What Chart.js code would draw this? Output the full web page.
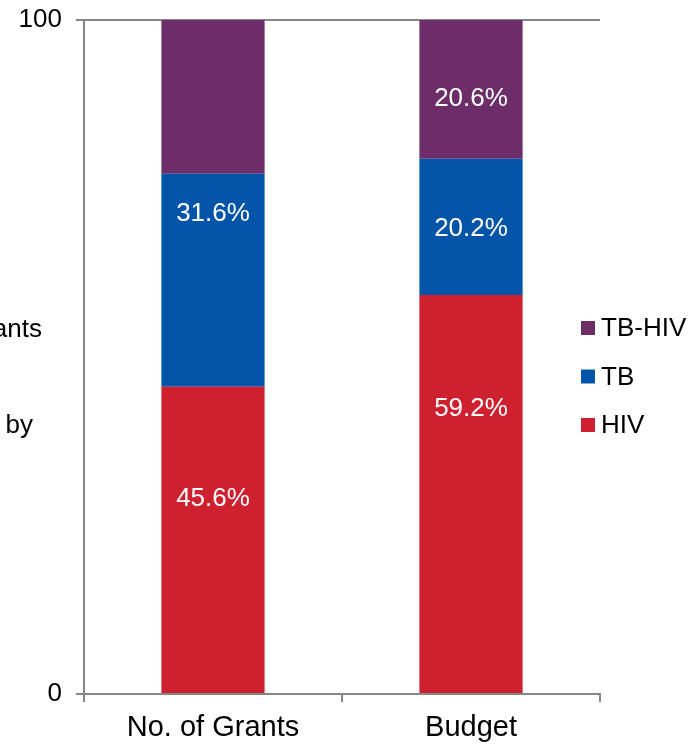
<!DOCTYPE html>
<html>
<head>
<meta charset="utf-8">
<script src="https://cdn.jsdelivr.net/npm/chart.js@4"></script>
<style>
  body { margin: 0; background: #fff; }
</style>
</head>
<body>
<canvas id="chart" width="696" height="746"></canvas>
<script>
const categories = ["No. of Grants", "Budget"];
const hivValues = [45.6, 59.2];
const tbValues = [31.6, 20.2];
const tbHivValues = [22.8, 20.6];

// text shown inside each segment (null = no label)
const hivLabels = ["45.6%", "59.2%"];
const tbLabels = ["31.6%", "20.2%"];
const tbHivLabels = [null, "20.6%"];

const yTicks = [0, 100];

// where the in-bar labels sit, in axis units
const labelAt = {
  hiv: [29.2, 42.6],
  tb: [71.5, 69.3],
  tbHiv: [null, 88.6],
};

const FONT = "'Liberation Sans', Arial, Helvetica, sans-serif";
const AXIS_GREY = "#868686";

const overlay = {
  id: "overlay",
  afterDatasetsDraw(chart) {
    const ctx = chart.ctx;
    const x = chart.scales.x, y = chart.scales.y;
    const labelSets = [
      [hivLabels, labelAt.hiv],
      [tbLabels, labelAt.tb],
      [tbHivLabels, labelAt.tbHiv],
    ];
    ctx.save();
    ctx.fillStyle = "#fff";
    ctx.font = "26px " + FONT;
    ctx.textAlign = "center";
    ctx.textBaseline = "middle";
    labelSets.forEach(([texts, pos]) => {
      texts.forEach((t, i) => {
        if (!t) return;
        // +2 so the digits look centred on the spot
        ctx.fillText(t, x.getPixelForValue(i), y.getPixelForValue(pos[i]) + 2);
      });
    });
    ctx.restore();
  },
  afterDraw(chart) {
    const ctx = chart.ctx;
    ctx.save();
    // legend, top to bottom in reverse stack order
    const items = chart.data.datasets.slice().reverse();
    ctx.font = "26px " + FONT;
    ctx.textBaseline = "middle";
    ctx.textAlign = "left";
    items.forEach((ds, i) => {
      const cy = 328 + i * 48.5;
      ctx.fillStyle = ds.backgroundColor;
      ctx.fillRect(581, cy - 7, 14, 14);
      ctx.fillStyle = "#000";
      ctx.fillText(ds.label, 601, cy + 1);
    });
    // y axis title, mostly clipped off the left edge
    ctx.textAlign = "right";
    ctx.textBaseline = "alphabetic";
    ctx.fillText("Grants", 42, 337);
    ctx.fillText("by", 33, 433);
    ctx.restore();
  },
};

new Chart(document.getElementById("chart"), {
  type: "bar",
  data: {
    labels: categories,
    datasets: [
      { label: "HIV", data: hivValues, backgroundColor: "#CE202F" },
      { label: "TB", data: tbValues, backgroundColor: "#0254A8" },
      { label: "TB-HIV", data: tbHivValues, backgroundColor: "#6C2D68" },
    ],
  },
  options: {
    responsive: false,
    devicePixelRatio: 1,
    animation: false,
    layout: { padding: { left: 0, right: 96, top: 20, bottom: 0 } },
    datasets: {
      bar: { categoryPercentage: 1, barPercentage: 0.4, borderWidth: 0 },
    },
    plugins: {
      legend: { display: false },
      tooltip: { enabled: false },
    },
    scales: {
      x: {
        stacked: true,
        grid: {
          offset: true,
          drawOnChartArea: false,
          color: AXIS_GREY,
          lineWidth: 2,
          tickLength: 8,
        },
        border: { color: AXIS_GREY, width: 2 },
        ticks: { color: "#000", font: { size: 29, family: FONT }, padding: 9 },
        afterFit(scale) {
          scale.height = 52;
          scale.paddingLeft = 0;
          scale.paddingRight = 0;
        },
      },
      y: {
        stacked: true,
        min: 0,
        max: 100,
        afterBuildTicks(scale) {
          scale.ticks = yTicks.map(v => ({ value: v }));
        },
        grid: {
          color: AXIS_GREY,
          lineWidth: 2,
          tickLength: 8,
        },
        border: { color: AXIS_GREY, width: 2 },
        ticks: { color: "#000", font: { size: 26, family: FONT }, padding: 14 },
        afterFit(scale) {
          scale.width = 84;
          scale.paddingTop = 0;
          scale.paddingBottom = 0;
        },
      },
    },
  },
  plugins: [overlay],
});
</script>
</body>
</html>
